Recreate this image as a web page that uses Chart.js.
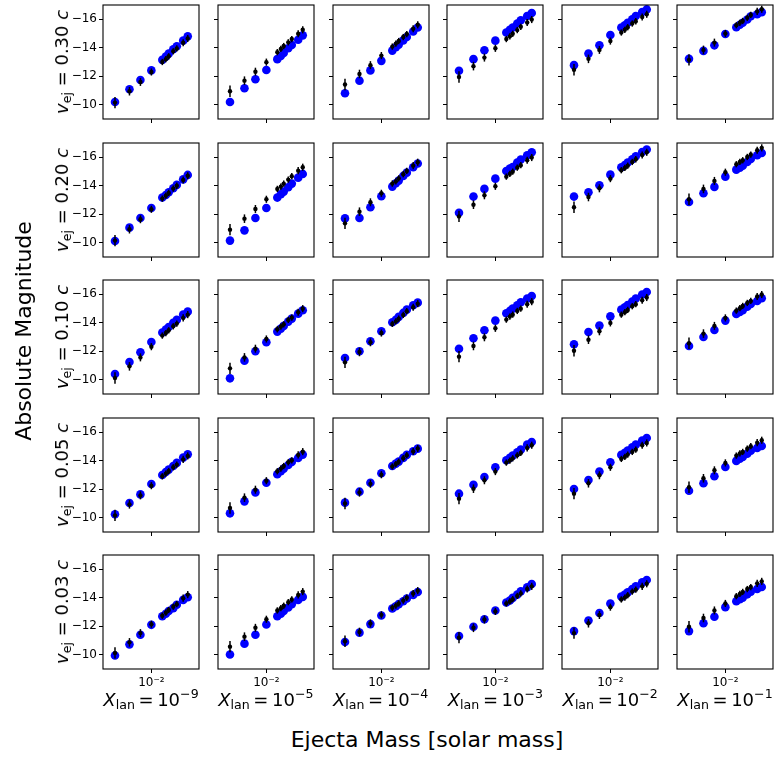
<!DOCTYPE html>
<html>
<head>
<meta charset="utf-8">
<script src="https://cdn.jsdelivr.net/npm/chart.js@4.4.1/dist/chart.umd.min.js"></script>
<style>
  html, body { margin: 0; padding: 0; background: #fff; }
  #fig { position: relative; width: 774px; height: 759px; overflow: hidden; font-family: "DejaVu Sans", sans-serif; color: #000; }
  #fig canvas { position: absolute; }
  .lab { position: absolute; white-space: nowrap; transform: translate(-50%, -50%); line-height: 1; }
  .rot { transform: translate(-50%, -50%) rotate(-90deg); }
  .eq { margin: 0 0.2em; }
  sub { font-size: 0.7em; vertical-align: -0.25em; line-height: 0; }
  sup { font-size: 0.7em; vertical-align: 0.6em; line-height: 0; }
</style>
</head>
<body>
<div id="fig"></div>
<script>
// 面板数据：每行一个速度，每行 6 列对应不同的镧系分数

const ejectaMass = [0.001, 0.0025, 0.005, 0.01, 0.02, 0.025, 0.03, 0.04, 0.05, 0.075, 0.1];
const velocityLabels = ['0.30', '0.20', '0.10', '0.05', '0.03'];
const lanthanideExps = ['\u22129', '\u22125', '\u22124', '\u22123', '\u22122', '\u22121'];
const yTicks = [-16, -14, -12, -10];
const obsErr = [0.40, 0.30, 0.28, 0.25, 0.22, 0.22, 0.22, 0.22, 0.22, 0.25, 0.25];

// 蓝色：模型；黑色：带误差棒的数据
const modelV030 = [
  [-10.19, -11.09, -11.74, -12.41, -13.15, -13.38, -13.59, -13.89, -14.10, -14.50, -14.80],
  [-10.19, -11.16, -11.79, -12.44, -13.20, -13.43, -13.64, -13.96, -14.19, -14.56, -14.87],
  [-10.81, -11.69, -12.41, -13.08, -13.80, -14.03, -14.22, -14.52, -14.75, -15.14, -15.42],
  [-12.39, -13.20, -13.82, -14.50, -15.07, -15.26, -15.42, -15.70, -15.93, -16.23, -16.44],
  [-12.78, -13.59, -14.17, -14.89, -15.42, -15.58, -15.75, -16.00, -16.23, -16.51, -16.69],
  [-13.22, -13.78, -14.17, -14.96, -15.44, -15.61, -15.75, -15.98, -16.21, -16.35, -16.50]
];
const obsV030 = [
  [-10.15, -10.95, -11.60, -12.30, -13.00, -13.20, -13.40, -13.75, -13.95, -14.35, -14.65],
  [-10.95, -11.69, -12.32, -12.99, -13.69, -13.92, -14.12, -14.38, -14.61, -14.98, -15.26],
  [-11.42, -12.16, -12.78, -13.45, -14.08, -14.29, -14.47, -14.75, -14.96, -15.33, -15.61],
  [-11.95, -12.71, -13.31, -13.96, -14.61, -14.80, -14.98, -15.24, -15.47, -15.77, -15.98],
  [-12.46, -13.22, -13.85, -14.47, -15.07, -15.26, -15.44, -15.70, -15.86, -16.16, -16.35],
  [-13.15, -13.85, -14.36, -15.00, -15.58, -15.75, -15.88, -16.10, -16.30, -16.55, -16.70]
];
const modelV020 = [
  [-10.12, -11.06, -11.74, -12.44, -13.17, -13.35, -13.54, -13.82, -14.06, -14.45, -14.76],
  [-10.15, -10.87, -11.74, -12.44, -13.17, -13.40, -13.59, -13.89, -14.15, -14.57, -14.83],
  [-11.71, -11.74, -12.49, -13.26, -13.94, -14.17, -14.36, -14.69, -14.92, -15.30, -15.56],
  [-12.11, -13.24, -13.78, -14.50, -15.04, -15.20, -15.32, -15.63, -15.84, -16.14, -16.35],
  [-13.24, -13.54, -14.03, -14.78, -15.30, -15.46, -15.63, -15.86, -16.07, -16.37, -16.54],
  [-12.86, -13.47, -13.92, -14.64, -15.13, -15.27, -15.41, -15.67, -15.88, -16.14, -16.30]
];
const obsV020 = [
  [-10.15, -10.95, -11.65, -12.35, -13.10, -13.30, -13.50, -13.80, -14.00, -14.40, -14.70],
  [-10.92, -11.69, -12.37, -13.05, -13.78, -13.94, -14.15, -14.43, -14.67, -15.06, -15.30],
  [-11.36, -12.18, -12.84, -13.47, -14.15, -14.31, -14.52, -14.81, -15.04, -15.41, -15.65],
  [-11.85, -12.67, -13.33, -13.96, -14.64, -14.83, -14.99, -15.27, -15.44, -15.79, -15.98],
  [-12.49, -13.21, -13.82, -14.50, -15.09, -15.25, -15.41, -15.67, -15.86, -16.16, -16.35],
  [-13.05, -13.78, -14.34, -14.95, -15.51, -15.67, -15.79, -16.02, -16.19, -16.49, -16.66]
];
const modelV010 = [
  [-10.40, -11.25, -11.93, -12.65, -13.31, -13.52, -13.70, -13.99, -14.20, -14.57, -14.78],
  [-10.10, -11.34, -12.00, -12.63, -13.38, -13.59, -13.78, -14.08, -14.29, -14.64, -14.88],
  [-11.53, -12.00, -12.70, -13.40, -14.03, -14.20, -14.41, -14.69, -14.92, -15.23, -15.41],
  [-12.18, -12.91, -13.47, -14.15, -14.67, -14.83, -14.99, -15.23, -15.44, -15.70, -15.88],
  [-12.49, -13.35, -13.80, -14.45, -14.92, -15.09, -15.25, -15.48, -15.70, -15.98, -16.16],
  [-12.37, -13.00, -13.49, -14.15, -14.62, -14.76, -14.88, -15.13, -15.32, -15.53, -15.72]
];
const obsV010 = [
  [-10.12, -10.94, -11.57, -12.32, -13.10, -13.28, -13.47, -13.75, -13.94, -14.34, -14.57],
  [-10.80, -11.57, -12.18, -12.86, -13.54, -13.73, -13.89, -14.20, -14.36, -14.74, -14.99],
  [-11.22, -11.95, -12.63, -13.28, -13.92, -14.10, -14.29, -14.55, -14.81, -15.09, -15.34],
  [-11.62, -12.37, -12.98, -13.61, -14.22, -14.43, -14.57, -14.83, -14.99, -15.30, -15.48],
  [-12.04, -12.81, -13.40, -13.99, -14.57, -14.74, -14.90, -15.16, -15.30, -15.58, -15.77],
  [-12.56, -13.24, -13.78, -14.34, -14.85, -15.02, -15.18, -15.39, -15.53, -15.84, -15.98]
];
const modelV005 = [
  [-10.24, -11.04, -11.64, -12.37, -13.00, -13.21, -13.38, -13.63, -13.85, -14.22, -14.45],
  [-10.31, -11.15, -11.78, -12.46, -13.05, -13.26, -13.45, -13.70, -13.92, -14.20, -14.43],
  [-11.06, -11.83, -12.46, -13.12, -13.63, -13.80, -13.94, -14.20, -14.41, -14.67, -14.85],
  [-11.69, -12.32, -12.86, -13.54, -14.03, -14.20, -14.36, -14.59, -14.78, -15.13, -15.32],
  [-12.02, -12.65, -13.24, -13.89, -14.41, -14.55, -14.71, -14.95, -15.13, -15.41, -15.60],
  [-11.90, -12.42, -12.91, -13.56, -13.99, -14.15, -14.27, -14.50, -14.71, -14.90, -15.04]
];
const obsV005 = [
  [-10.17, -10.94, -11.57, -12.25, -12.91, -13.10, -13.28, -13.54, -13.73, -14.10, -14.34],
  [-10.68, -11.41, -11.97, -12.60, -13.26, -13.45, -13.63, -13.89, -14.03, -14.41, -14.64],
  [-11.00, -11.78, -12.38, -13.02, -13.60, -13.77, -13.93, -14.18, -14.39, -14.65, -14.86],
  [-11.34, -12.04, -12.63, -13.24, -13.87, -14.01, -14.17, -14.38, -14.55, -14.90, -15.09],
  [-11.69, -12.42, -12.98, -13.54, -14.13, -14.27, -14.43, -14.62, -14.78, -15.09, -15.25],
  [-12.14, -12.77, -13.33, -13.85, -14.36, -14.52, -14.62, -14.85, -15.02, -15.27, -15.44]
];
const modelV003 = [
  [-9.95, -10.73, -11.40, -12.10, -12.70, -12.88, -13.07, -13.27, -13.51, -13.85, -14.04],
  [-10.02, -10.78, -11.40, -12.12, -12.70, -12.88, -13.07, -13.32, -13.55, -13.85, -14.06],
  [-10.90, -11.55, -12.15, -12.75, -13.25, -13.40, -13.55, -13.75, -13.95, -14.20, -14.40],
  [-11.31, -11.96, -12.49, -13.11, -13.67, -13.81, -13.99, -14.22, -14.45, -14.73, -14.96],
  [-11.66, -12.40, -12.93, -13.60, -14.08, -14.22, -14.38, -14.61, -14.80, -15.08, -15.24],
  [-11.66, -12.21, -12.67, -13.34, -13.76, -13.90, -14.01, -14.24, -14.43, -14.61, -14.75]
];
const obsV003 = [
  [-10.13, -10.87, -11.52, -12.14, -12.74, -12.95, -13.14, -13.37, -13.55, -13.97, -14.22],
  [-10.57, -11.27, -11.89, -12.49, -13.11, -13.27, -13.44, -13.69, -13.88, -14.20, -14.43],
  [-10.95, -11.60, -12.20, -12.80, -13.30, -13.45, -13.60, -13.80, -14.00, -14.30, -14.50],
  [-11.20, -11.89, -12.47, -13.04, -13.60, -13.74, -13.90, -14.13, -14.31, -14.61, -14.80],
  [-11.52, -12.21, -12.79, -13.34, -13.88, -14.01, -14.18, -14.43, -14.57, -14.80, -14.98],
  [-11.96, -12.58, -13.11, -13.60, -14.11, -14.27, -14.41, -14.61, -14.75, -15.01, -15.15]
];

const modelRows = [modelV030, modelV020, modelV010, modelV005, modelV003];
const obsRows = [obsV030, obsV020, obsV010, obsV005, obsV003];

Chart.defaults.font.family = 'DejaVu Sans';
Chart.defaults.font.size = 12;
Chart.defaults.color = '#000';

// 画误差棒
const errorBars = {
  id: 'errorBars',
  afterDatasetsDraw(chart) {
    const ctx = chart.ctx;
    const xs = chart.scales.x;
    const ys = chart.scales.y;
    chart.data.datasets.forEach((ds) => {
      if (!ds.errors) return;
      ctx.save();
      ctx.strokeStyle = '#000';
      ctx.lineWidth = 1.5;
      ds.data.forEach((p, i) => {
        const px = xs.getPixelForValue(p.x);
        ctx.beginPath();
        ctx.moveTo(px, ys.getPixelForValue(p.y - ds.errors[i]));
        ctx.lineTo(px, ys.getPixelForValue(p.y + ds.errors[i]));
        ctx.stroke();
      });
      ctx.restore();
    });
  }
};

// 四边黑框
const frame = {
  id: 'frame',
  afterDraw(chart) {
    const a = chart.chartArea;
    const ctx = chart.ctx;
    ctx.save();
    ctx.strokeStyle = '#000';
    ctx.lineWidth = 1.1;
    ctx.strokeRect(a.left, a.top, a.right - a.left, a.bottom - a.top);
    ctx.restore();
  }
};

const fig = document.getElementById('fig');
const PW = 96, PH = 114;
const L = 45, T = 14, R = 6, B = 30;

function addLabel(html, x, y, size, rotate) {
  const d = document.createElement('div');
  d.className = 'lab' + (rotate ? ' rot' : '');
  d.style.left = x + 'px';
  d.style.top = y + 'px';
  d.style.fontSize = size + 'px';
  d.innerHTML = html;
  fig.appendChild(d);
}

function makePanel(r, c) {
  const left = 103 + 114.8 * c;
  const top = 5 + 137.5 * r;
  const canvas = document.createElement('canvas');
  canvas.width = PW + L + R;
  canvas.height = PH + T + B;
  canvas.style.left = (left - L) + 'px';
  canvas.style.top = (top - T) + 'px';
  fig.appendChild(canvas);

  const model = modelRows[r][c].map((y, i) => ({ x: ejectaMass[i], y: y }));
  const obs = obsRows[r][c].map((y, i) => ({ x: ejectaMass[i], y: y }));

  new Chart(canvas, {
    type: 'scatter',
    data: {
      datasets: [
        { data: obs, errors: obsErr, pointRadius: 2.2, pointBackgroundColor: '#000', pointBorderWidth: 0, order: 0 },
        { data: model, pointRadius: 4.3, pointBackgroundColor: '#0000ff', pointBorderWidth: 0, order: 1 }
      ]
    },
    options: {
      responsive: false,
      animation: false,
      events: [],
      layout: { padding: { top: T, right: R, left: 0, bottom: 0 } },
      plugins: { legend: { display: false }, tooltip: { enabled: false } },
      scales: {
        x: {
          type: 'logarithmic',
          min: 0.000468,
          max: 0.204,
          afterBuildTicks: (s) => { s.ticks = [{ value: 0.01 }]; },
          afterFit: (s) => { s.height = B; },
          border: { display: false },
          grid: { drawOnChartArea: false, drawTicks: true, tickLength: 4, color: '#000' },
          ticks: {
            display: r === 4,
            padding: 3,
            maxRotation: 0,
            font: { size: 12 },
            callback: () => '10\u207B\u00B2'
          }
        },
        y: {
          min: -17,
          max: -9,
          reverse: true,
          afterBuildTicks: (s) => { s.ticks = yTicks.map((v) => ({ value: v })); },
          afterFit: (s) => { s.width = L; },
          border: { display: false },
          grid: { drawOnChartArea: false, drawTicks: true, tickLength: 4, color: '#000' },
          ticks: {
            display: c === 0,
            padding: 2,
            font: { size: 12 },
            callback: (v) => '\u2212' + Math.abs(v)
          }
        }
      }
    },
    plugins: [errorBars, frame]
  });
}

for (let r = 0; r < velocityLabels.length; r++) {
  for (let c = 0; c < lanthanideExps.length; c++) {
    makePanel(r, c);
  }
  addLabel('<i>v</i><sub>ej</sub> = ' + velocityLabels[r] + '<i> c</i>', 62, 5 + 137.5 * r + 57, 18, true);
}

for (let c = 0; c < lanthanideExps.length; c++) {
  addLabel('<i>X</i><sub>lan</sub><span class="eq">=</span>10<sup>' + lanthanideExps[c] + '</sup>', 103 + 114.8 * c + 48, 700, 18, false);
}

addLabel('Absolute Magnitude', 24, 331, 22, true);
addLabel('Ejecta Mass [solar mass]', 427, 740, 22, false);
</script>
</body>
</html>
